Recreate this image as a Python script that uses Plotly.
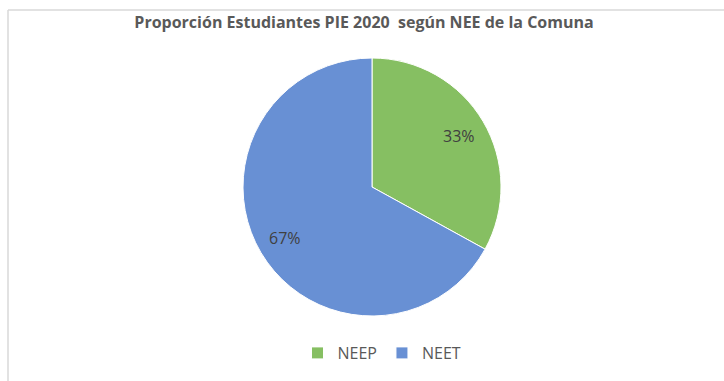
import math
import plotly.graph_objects as go

# Data
categories = ["NEEP", "NEET"]
values = [33, 67]
colors = ["#86BF62", "#6890D4"]

W, H = 724, 381
cx, cy, r = 372, 187, 129  # pie centre and radius in pixels

fig = go.Figure()
fig.add_trace(go.Pie(
    labels=categories,
    values=values,
    sort=False,
    direction="clockwise",
    rotation=0,
    textinfo="none",
    hoverinfo="label+percent",
    marker=dict(colors=colors, line=dict(color="white", width=1)),
    domain=dict(x=[(cx - r) / W, (cx + r) / W],
                y=[1 - (cy + r) / H, 1 - (cy - r) / H]),
))

# Percentage labels placed along each slice's mid-angle
total = sum(values)
annotations = []
start = 0.0
for v in values:
    frac = v / total
    mid = (start + frac / 2) * 2 * math.pi
    start += frac
    rr = 0.78 * r
    px = cx + rr * math.sin(mid)
    py = cy - rr * math.cos(mid)
    annotations.append(dict(
        x=px / W, y=1 - py / H, xref="paper", yref="paper",
        text=f"{round(frac * 100)}%", showarrow=False,
        font=dict(family="Open Sans, sans-serif", size=16, color="#404040"),
    ))

# Chart frame (top and left edges)
shapes = [
    dict(type="line", xref="paper", yref="paper",
         x0=8 / W, x1=1, y0=1 - 10 / H, y1=1 - 10 / H,
         line=dict(color="#D9D9D9", width=1.5)),
    dict(type="line", xref="paper", yref="paper",
         x0=8 / W, x1=8 / W, y0=0, y1=1 - 10 / H,
         line=dict(color="#D9D9D9", width=1.5)),
]

fig.update_layout(
    width=W, height=H,
    margin=dict(l=0, r=0, t=0, b=0),
    paper_bgcolor="white",
    plot_bgcolor="white",
    title=dict(
        text="<b>Proporción Estudiantes PIE 2020\u00a0 según NEE de la Comuna</b>",
        x=364 / W, xanchor="center",
        y=1 - 22 / H, yanchor="middle",
        font=dict(family="Open Sans, sans-serif", size=16, color="#595959"),
    ),
    legend=dict(
        orientation="h",
        x=382 / W, xanchor="center",
        y=1 - 353 / H, yanchor="middle",
        font=dict(family="Open Sans, sans-serif", size=16, color="#595959"),
        itemwidth=30,
        traceorder="normal",
    ),
    annotations=annotations,
    shapes=shapes,
)

fig.write_html("out.html")
